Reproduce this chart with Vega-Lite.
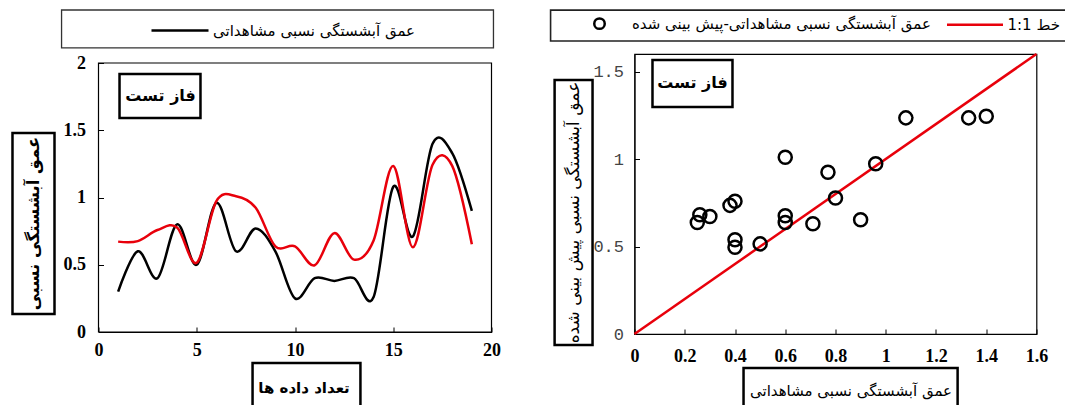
{
  "$schema": "https://vega.github.io/schema/vega-lite/v6.json",
  "padding": {"left": 10.5, "top": 8, "right": 0, "bottom": 0},
  "background": "white",
  "data": {"values": [
    {"n": 1, "observed": 0.30, "predicted": 0.672},
    {"n": 2, "observed": 0.60, "predicted": 0.676},
    {"n": 3, "observed": 0.40, "predicted": 0.758},
    {"n": 4, "observed": 0.80, "predicted": 0.777},
    {"n": 5, "observed": 0.50, "predicted": 0.515},
    {"n": 6, "observed": 0.96, "predicted": 0.973},
    {"n": 7, "observed": 0.60, "predicted": 1.01},
    {"n": 8, "observed": 0.77, "predicted": 0.924},
    {"n": 9, "observed": 0.60, "predicted": 0.637},
    {"n": 10, "observed": 0.25, "predicted": 0.637},
    {"n": 11, "observed": 0.40, "predicted": 0.496},
    {"n": 12, "observed": 0.38, "predicted": 0.735},
    {"n": 13, "observed": 0.40, "predicted": 0.538},
    {"n": 14, "observed": 0.26, "predicted": 0.681},
    {"n": 15, "observed": 1.08, "predicted": 1.235},
    {"n": 16, "observed": 0.71, "predicted": 0.63},
    {"n": 17, "observed": 1.40, "predicted": 1.244},
    {"n": 18, "observed": 1.33, "predicted": 1.235},
    {"n": 19, "observed": 0.90, "predicted": 0.653}
  ]},
  "config": {
    "view": {"stroke": "black", "strokeWidth": 1.2},
    "axis": {"grid": false, "domainColor": "black", "tickColor": "black", "tickSize": -5, "labelColor": "black", "labelFlush": false, "labelOverlap": false, "titleColor": "black"},
    "font": "DejaVu Sans"
  },
  "spacing": 48,
  "resolve": {"scale": {"color": "independent", "shape": "independent"}, "legend": {"color": "independent", "shape": "independent"}},
  "hconcat": [
    {
      "width": 393,
      "height": 278,
      "view": {"stroke": null},
      "layer": [
        {
          "data": {"values": [{}]},
          "mark": {"type": "rect", "fill": "transparent", "stroke": "black", "strokeWidth": 1.2},
          "encoding": {"x": {"datum": 0}, "x2": {"datum": 20}, "y": {"datum": 0}, "y2": {"datum": 2}}
        },
        {
          "mark": {"type": "line", "interpolate": "cardinal", "strokeWidth": 2.5},
          "encoding": {
            "x": {"field": "n", "type": "quantitative", "scale": {"domain": [0, 20], "nice": false},
              "axis": {"values": [0, 5, 10, 15, 20], "format": "~g", "labelFont": "Liberation Serif", "labelFontWeight": "bold", "labelFontSize": 18, "labelPadding": 14,
                "title": "تعداد داده ها", "titleFont": "DejaVu Sans", "titleFontWeight": "bold", "titleFontSize": 15, "titleX": 205, "titleY": 55, "titleBaseline": "middle", "titleAlign": "center"}},
            "y": {"field": "observed", "type": "quantitative", "scale": {"domain": [0, 2.067], "nice": false},
              "axis": {"values": [0, 0.5, 1, 1.5, 2], "format": "~g", "domain": false, "labelFont": "Liberation Serif", "labelFontWeight": "bold", "labelFontSize": 18, "labelPadding": 18,
                "title": "عمق آبشستگی نسبی", "titleFont": "DejaVu Sans", "titleFontWeight": "bold", "titleFontSize": 16.5, "titleX": -65, "titleY": 169, "titleBaseline": "middle", "titleAlign": "center", "titleAngle": -90}},
            "color": {"datum": "عمق آبشستگی نسبی مشاهداتی", "scale": {"domain": ["عمق آبشستگی نسبی مشاهداتی"], "range": ["black"]},
              "legend": {"orient": "none", "legendX": 74, "legendY": -31, "title": null, "padding": 0, "symbolType": "M-5,0L5,0", "symbolSize": 130, "symbolStrokeWidth": 2.5, "labelFont": "DejaVu Sans", "labelFontSize": 15, "labelOffset": 25.5, "labelLimit": 500, "labelColor": "black"}}
          }
        },
        {
          "mark": {"type": "line", "interpolate": "cardinal", "strokeWidth": 2.5, "color": "#e8000b"},
          "encoding": {
            "x": {"field": "n", "type": "quantitative"},
            "y": {"field": "predicted", "type": "quantitative"}
          }
        },
        {
          "data": {"values": [{}]},
          "mark": {"type": "rect", "fill": "transparent", "stroke": "#333", "strokeWidth": 1.3},
          "encoding": {"x": {"datum": -1.88}, "x2": {"datum": 20.1}, "y": {"datum": 2.394}, "y2": {"datum": 2.112}}
        },
        {
          "data": {"values": [{}]},
          "mark": {"type": "rect", "fill": "transparent", "stroke": "black", "strokeWidth": 2.5},
          "encoding": {"x": {"datum": -4.377}, "x2": {"datum": -2.239}, "y": {"datum": 1.48}, "y2": {"datum": 0.134}}
        },
        {
          "data": {"values": [{}]},
          "mark": {"type": "rect", "fill": "transparent", "stroke": "black", "strokeWidth": 2.5},
          "encoding": {"x": {"datum": 7.84}, "x2": {"datum": 13.33}, "y": {"datum": -0.2305}, "y2": {"datum": -0.565}}
        },
        {
          "data": {"values": [{}]},
          "mark": {"type": "rect", "fill": "transparent", "stroke": "black", "strokeWidth": 2.5},
          "encoding": {"x": {"datum": 1.07}, "x2": {"datum": 5.19}, "y": {"datum": 1.918}, "y2": {"datum": 1.591}}
        },
        {
          "data": {"values": [{}]},
          "mark": {"type": "text", "font": "DejaVu Sans", "fontWeight": "bold", "fontSize": 16, "align": "center", "baseline": "middle", "color": "black"},
          "encoding": {"x": {"datum": 3.16}, "y": {"datum": 1.755}, "text": {"value": "فاز تست"}}
        }
      ]
    },
    {
      "width": 402,
      "height": 280,
      "layer": [
        {
          "data": {"values": [{}]},
          "mark": {"type": "rule", "color": "#e8000b", "strokeWidth": 2.5},
          "encoding": {"x": {"datum": 0}, "y": {"datum": 0}, "x2": {"datum": 1.6}, "y2": {"datum": 1.6}}
        },
        {
          "mark": {"type": "point", "filled": false, "strokeWidth": 2.5, "size": 170, "opacity": 1},
          "encoding": {
            "x": {"field": "observed", "type": "quantitative", "scale": {"domain": [0, 1.6], "nice": false},
              "axis": {"values": [0, 0.2, 0.4, 0.6, 0.8, 1, 1.2, 1.4, 1.6], "format": "~g", "labelFont": "Liberation Serif", "labelFontWeight": "bold", "labelFontSize": 18, "labelPadding": 18,
                "title": "عمق آبشستگی نسبی مشاهداتی", "titleFont": "DejaVu Sans", "titleFontWeight": "normal", "titleFontSize": 15, "titleX": 216, "titleY": 56, "titleBaseline": "middle", "titleAlign": "center"}},
            "y": {"field": "predicted", "type": "quantitative", "scale": {"domain": [0, 1.6], "nice": false},
              "axis": {"values": [0, 0.5, 1, 1.5], "format": "~g", "labelFont": "Liberation Mono", "labelFontWeight": "normal", "labelFontSize": 17, "labelPadding": 16, "labelColor": "#444",
                "title": "عمق آبشستگی نسبی پیش بینی شده", "titleFont": "DejaVu Sans", "titleFontWeight": "normal", "titleFontSize": 17, "titleX": -61, "titleY": 158, "titleBaseline": "middle", "titleAlign": "center", "titleAngle": -90}},
            "color": {"datum": "عمق آبشستگی نسبی مشاهداتی-پیش بینی شده", "scale": {"domain": ["عمق آبشستگی نسبی مشاهداتی-پیش بینی شده", "خط 1:1"], "range": ["black", "#e8000b"]},
              "legend": {"orient": "none", "direction": "horizontal", "legendX": -42.5, "legendY": -38, "title": null, "padding": 0, "symbolSize": 110, "symbolStrokeWidth": 2.5, "labelFont": "DejaVu Sans", "labelFontSize": 15, "labelOffset": 25, "labelLimit": 500, "columnPadding": 10.5, "labelColor": "black"}},
            "shape": {"datum": "عمق آبشستگی نسبی مشاهداتی-پیش بینی شده", "scale": {"domain": ["عمق آبشستگی نسبی مشاهداتی-پیش بینی شده", "خط 1:1"], "range": ["circle", "M-5.34,0L5.34,0"]}}
          }
        },
        {
          "data": {"values": [{}]},
          "mark": {"type": "rect", "fill": "transparent", "stroke": "#222", "strokeWidth": 1.6},
          "encoding": {"x": {"datum": -0.334}, "x2": {"datum": 1.72}, "y": {"datum": 1.851}, "y2": {"datum": 1.674}}
        },
        {
          "data": {"values": [{}]},
          "mark": {"type": "rect", "fill": "transparent", "stroke": "black", "strokeWidth": 2.5},
          "encoding": {"x": {"datum": -0.318}, "x2": {"datum": -0.167}, "y": {"datum": 1.451}, "y2": {"datum": -0.063}}
        },
        {
          "data": {"values": [{}]},
          "mark": {"type": "rect", "fill": "transparent", "stroke": "black", "strokeWidth": 2.5},
          "encoding": {"x": {"datum": 0.434}, "x2": {"datum": 1.286}, "y": {"datum": -0.194}, "y2": {"datum": -0.423}}
        },
        {
          "data": {"values": [{}]},
          "mark": {"type": "rect", "fill": "transparent", "stroke": "black", "strokeWidth": 2.5},
          "encoding": {"x": {"datum": 0.0716}, "x2": {"datum": 0.39}, "y": {"datum": 1.566}, "y2": {"datum": 1.297}}
        },
        {
          "data": {"values": [{}]},
          "mark": {"type": "text", "font": "DejaVu Sans", "fontWeight": "bold", "fontSize": 16, "align": "center", "baseline": "middle", "color": "black"},
          "encoding": {"x": {"datum": 0.231}, "y": {"datum": 1.434}, "text": {"value": "فاز تست"}}
        }
      ]
    }
  ]
}
